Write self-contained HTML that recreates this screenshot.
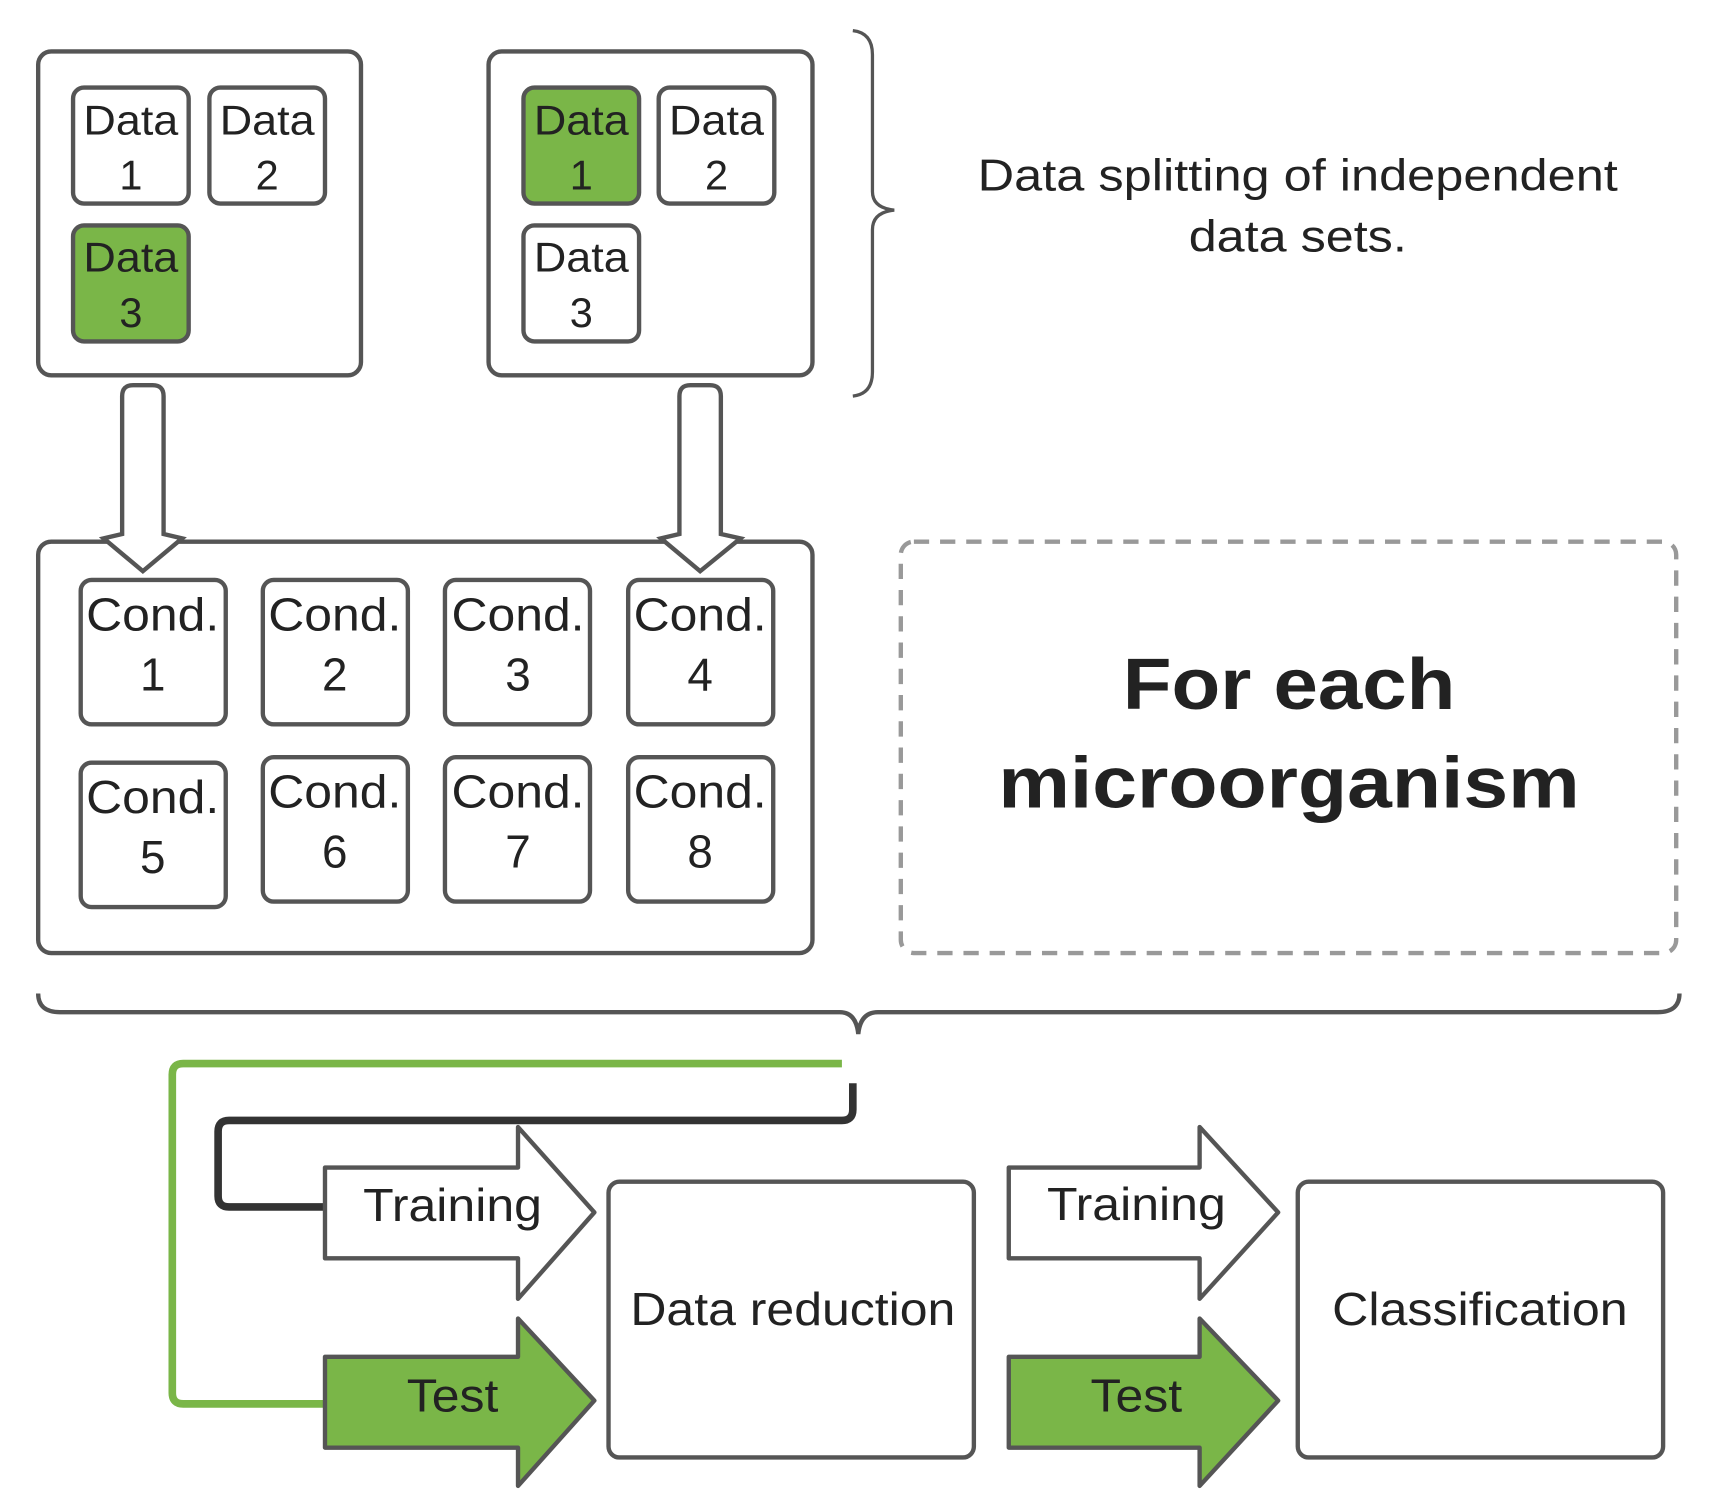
<!DOCTYPE html>
<html><head><style>html,body{margin:0;padding:0;background:#fff}svg{display:block}</style></head>
<body>
<svg width="1710" height="1510" viewBox="0 0 1568 1380" preserveAspectRatio="none" xmlns="http://www.w3.org/2000/svg" font-family="Liberation Sans, sans-serif" fill="none">
<g stroke="#555" stroke-width="4">
<rect x="35" y="47" width="296" height="296" rx="12" fill="#fff"/>
<rect x="67" y="80" width="106" height="106" rx="10" fill="#fff"/>
<rect x="192" y="80" width="106" height="106" rx="10" fill="#fff"/>
<rect x="67" y="206" width="106" height="106" rx="10" fill="#7ab648"/>
<rect x="448" y="47" width="297" height="296" rx="12" fill="#fff"/>
<rect x="480" y="80" width="106" height="106" rx="10" fill="#7ab648"/>
<rect x="604" y="80" width="106" height="106" rx="10" fill="#fff"/>
<rect x="480" y="206" width="106" height="106" rx="10" fill="#fff"/>
<path d="M782 28 Q800 30 800 50 L800 175 Q800 190 820 192 Q800 194 800 210 L800 340 Q800 360 782 362" stroke-width="3"/>
<rect x="35" y="495" width="710" height="376" rx="12" fill="#fff"/>
<path d="M112 362 Q112 352 122 352 L140 352 Q150 352 150 362 L150 488 L167 492 L131 522 L95 492 L112 488 Z" fill="#fff"/>
<path d="M623 362 Q623 352 633 352 L651 352 Q661 352 661 362 L661 488 L679 492 L642 522 L606 492 L623 488 Z" fill="#fff"/>
<rect x="74" y="530" width="133" height="132" rx="10" fill="#fff"/>
<rect x="241" y="530" width="133" height="132" rx="10" fill="#fff"/>
<rect x="408" y="530" width="133" height="132" rx="10" fill="#fff"/>
<rect x="576" y="530" width="133" height="132" rx="10" fill="#fff"/>
<rect x="74" y="697" width="133" height="132" rx="10" fill="#fff"/>
<rect x="241" y="692" width="133" height="132" rx="10" fill="#fff"/>
<rect x="408" y="692" width="133" height="132" rx="10" fill="#fff"/>
<rect x="576" y="692" width="133" height="132" rx="10" fill="#fff"/>
<rect x="826" y="495" width="711" height="376" rx="12" stroke="#999" stroke-dasharray="14,10"/>
<path d="M35 908 Q35 925 55 925 L770 925 Q785 925 787 945 Q789 925 805 925 L1520 925 Q1540 925 1540 908" stroke-width="4"/>
</g>
<path d="M772 972 L168 972 Q158 972 158 982 L158 1273 Q158 1283 168 1283 L300 1283" stroke="#7ab648" stroke-width="7"/>
<path d="M782 990 L782 1014 Q782 1024 772 1024 L210 1024 Q200 1024 200 1034 L200 1093 Q200 1103 210 1103 L300 1103" stroke="#333" stroke-width="7"/>
<g stroke="#555" stroke-width="4" stroke-linejoin="round">
<path d="M298 1067 L475 1067 L475 1030 L545 1108 L475 1187 L475 1150 L298 1150 Z" fill="#fff"/>
<path d="M298 1240 L475 1240 L475 1205 L545 1280 L475 1358 L475 1323 L298 1323 Z" fill="#7ab648"/>
<path d="M925 1067 L1100 1067 L1100 1030 L1172 1108 L1100 1187 L1100 1150 L925 1150 Z" fill="#fff"/>
<path d="M925 1240 L1100 1240 L1100 1205 L1172 1280 L1100 1358 L1100 1323 L925 1323 Z" fill="#7ab648"/>
<rect x="558" y="1080" width="335" height="252" rx="10" fill="#fff"/>
<rect x="1190" y="1080" width="335" height="252" rx="10" fill="#fff"/>
</g>
<g fill="#222" font-size="38" text-anchor="middle" lengthAdjust="spacingAndGlyphs">
<text x="120" y="123" textLength="87" lengthAdjust="spacingAndGlyphs">Data</text><text x="120" y="173">1</text>
<text x="245" y="123" textLength="87" lengthAdjust="spacingAndGlyphs">Data</text><text x="245" y="173">2</text>
<text x="120" y="248" textLength="87" lengthAdjust="spacingAndGlyphs">Data</text><text x="120" y="299">3</text>
<text x="533" y="123" textLength="87" lengthAdjust="spacingAndGlyphs">Data</text><text x="533" y="173">1</text>
<text x="657" y="123" textLength="87" lengthAdjust="spacingAndGlyphs">Data</text><text x="657" y="173">2</text>
<text x="533" y="248" textLength="87" lengthAdjust="spacingAndGlyphs">Data</text><text x="533" y="299">3</text>
<text x="1190" y="174" font-size="41" textLength="587" lengthAdjust="spacingAndGlyphs">Data splitting of independent</text>
<text x="1190" y="230" font-size="41" textLength="200" lengthAdjust="spacingAndGlyphs">data sets.</text>
<g font-size="42">
<text x="140" y="576" textLength="122" lengthAdjust="spacingAndGlyphs">Cond.</text><text x="140" y="631">1</text>
<text x="307" y="576" textLength="122" lengthAdjust="spacingAndGlyphs">Cond.</text><text x="307" y="631">2</text>
<text x="475" y="576" textLength="122" lengthAdjust="spacingAndGlyphs">Cond.</text><text x="475" y="631">3</text>
<text x="642" y="576" textLength="122" lengthAdjust="spacingAndGlyphs">Cond.</text><text x="642" y="631">4</text>
<text x="140" y="743" textLength="122" lengthAdjust="spacingAndGlyphs">Cond.</text><text x="140" y="798">5</text>
<text x="307" y="738" textLength="122" lengthAdjust="spacingAndGlyphs">Cond.</text><text x="307" y="793">6</text>
<text x="475" y="738" textLength="122" lengthAdjust="spacingAndGlyphs">Cond.</text><text x="475" y="793">7</text>
<text x="642" y="738" textLength="122" lengthAdjust="spacingAndGlyphs">Cond.</text><text x="642" y="793">8</text>
<text x="415" y="1116" textLength="164" lengthAdjust="spacingAndGlyphs">Training</text>
<text x="415" y="1290" textLength="84" lengthAdjust="spacingAndGlyphs">Test</text>
<text x="1042" y="1115" textLength="164" lengthAdjust="spacingAndGlyphs">Training</text>
<text x="1042" y="1290" textLength="84" lengthAdjust="spacingAndGlyphs">Test</text>
<text x="727" y="1211" textLength="298" lengthAdjust="spacingAndGlyphs">Data reduction</text>
<text x="1357" y="1211" textLength="271" lengthAdjust="spacingAndGlyphs">Classification</text>
</g>
<text x="1182" y="648" font-size="66" font-weight="bold" textLength="305" lengthAdjust="spacingAndGlyphs">For each</text>
<text x="1182" y="738" font-size="66" font-weight="bold" textLength="533" lengthAdjust="spacingAndGlyphs">microorganism</text>
</g>
</svg>
</body></html>
